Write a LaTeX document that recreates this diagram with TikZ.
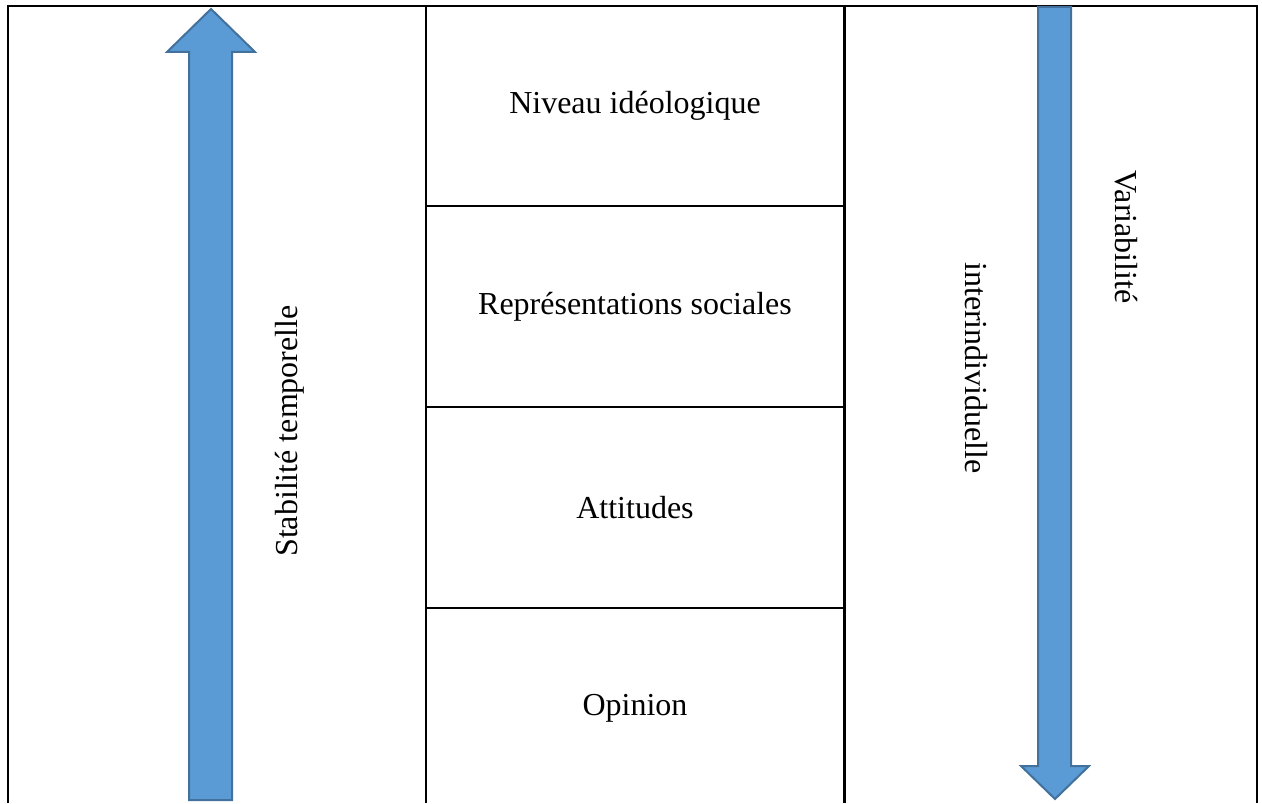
\documentclass[tikz,border=0pt]{standalone}
\usepackage{fontspec}
\setmainfont{Liberation Serif}
\usepackage{xcolor}
\usetikzlibrary{positioning}
\definecolor{arrow_blue}{HTML}{5B9BD5}
\definecolor{arrow_edge}{HTML}{41719C}

\begin{document}
\begin{tikzpicture}[
                x=0.5pt,
                y=0.5pt,
                cell/.style={minimum width=209pt, minimum height=100pt, inner sep=0pt, font=\fontsize{16}{19}\selectfont},
                sidelabel/.style={inner sep=0pt, anchor=base, font=\fontsize{16}{19}\selectfont},
                bluearrow/.style={fill=arrow_blue, draw=arrow_edge, line width=1pt, line join=miter},
                rule/.style={line width=1.1pt},
            ]
            \useasboundingbox (0,0) rectangle (1262,803);
            \coordinate (base) at (0,0);

            % Levels, from the most stable to the most variable
            \node[cell] (ideo) at (635,697) {Niveau idéologique};
            \node[cell, below=0pt of ideo] (repr) {Représentations sociales};
            \node[cell, below=0pt of repr] (att) {Attitudes};
            \node[cell, below=0pt of att] (opin) {Opinion};

            % Outer frame (open at the bottom)
            \draw[rule] (8,0) |- (1257,797) -- (1257,0);

            % Middle column and its rows
            \draw[rule] (ideo.north west) -- (ideo.north west |- base);
            \draw[rule] (ideo.north east) -- (ideo.north east |- base);
            \draw[rule] (ideo.south west) -- (ideo.south east);
            \draw[rule] (repr.south west) -- (repr.south east);
            \draw[rule] (att.south west) -- (att.south east);

            % Arrow pointing up
            \draw[bluearrow] (189,3) -- (189,751) -- (167,751) -- (211,794) -- (255,751) -- (232,751) -- (232,3) -- cycle;
            % Arrow pointing down
            \draw[bluearrow] (1038,796) -- (1038,37) -- (1021,37) -- (1055,4) -- (1089,37) -- (1071,37) -- (1071,796) -- cycle;

            % Side labels
            \node[sidelabel, rotate=90] (stab) at (297,372) {Stabilité temporelle};
            \node[sidelabel, rotate=-90] (vari) at (1115,566) {Variabilité};
            \node[sidelabel, rotate=-90] (inter) at (965,435) {interindividuelle};
        \end{tikzpicture}
\end{document}
